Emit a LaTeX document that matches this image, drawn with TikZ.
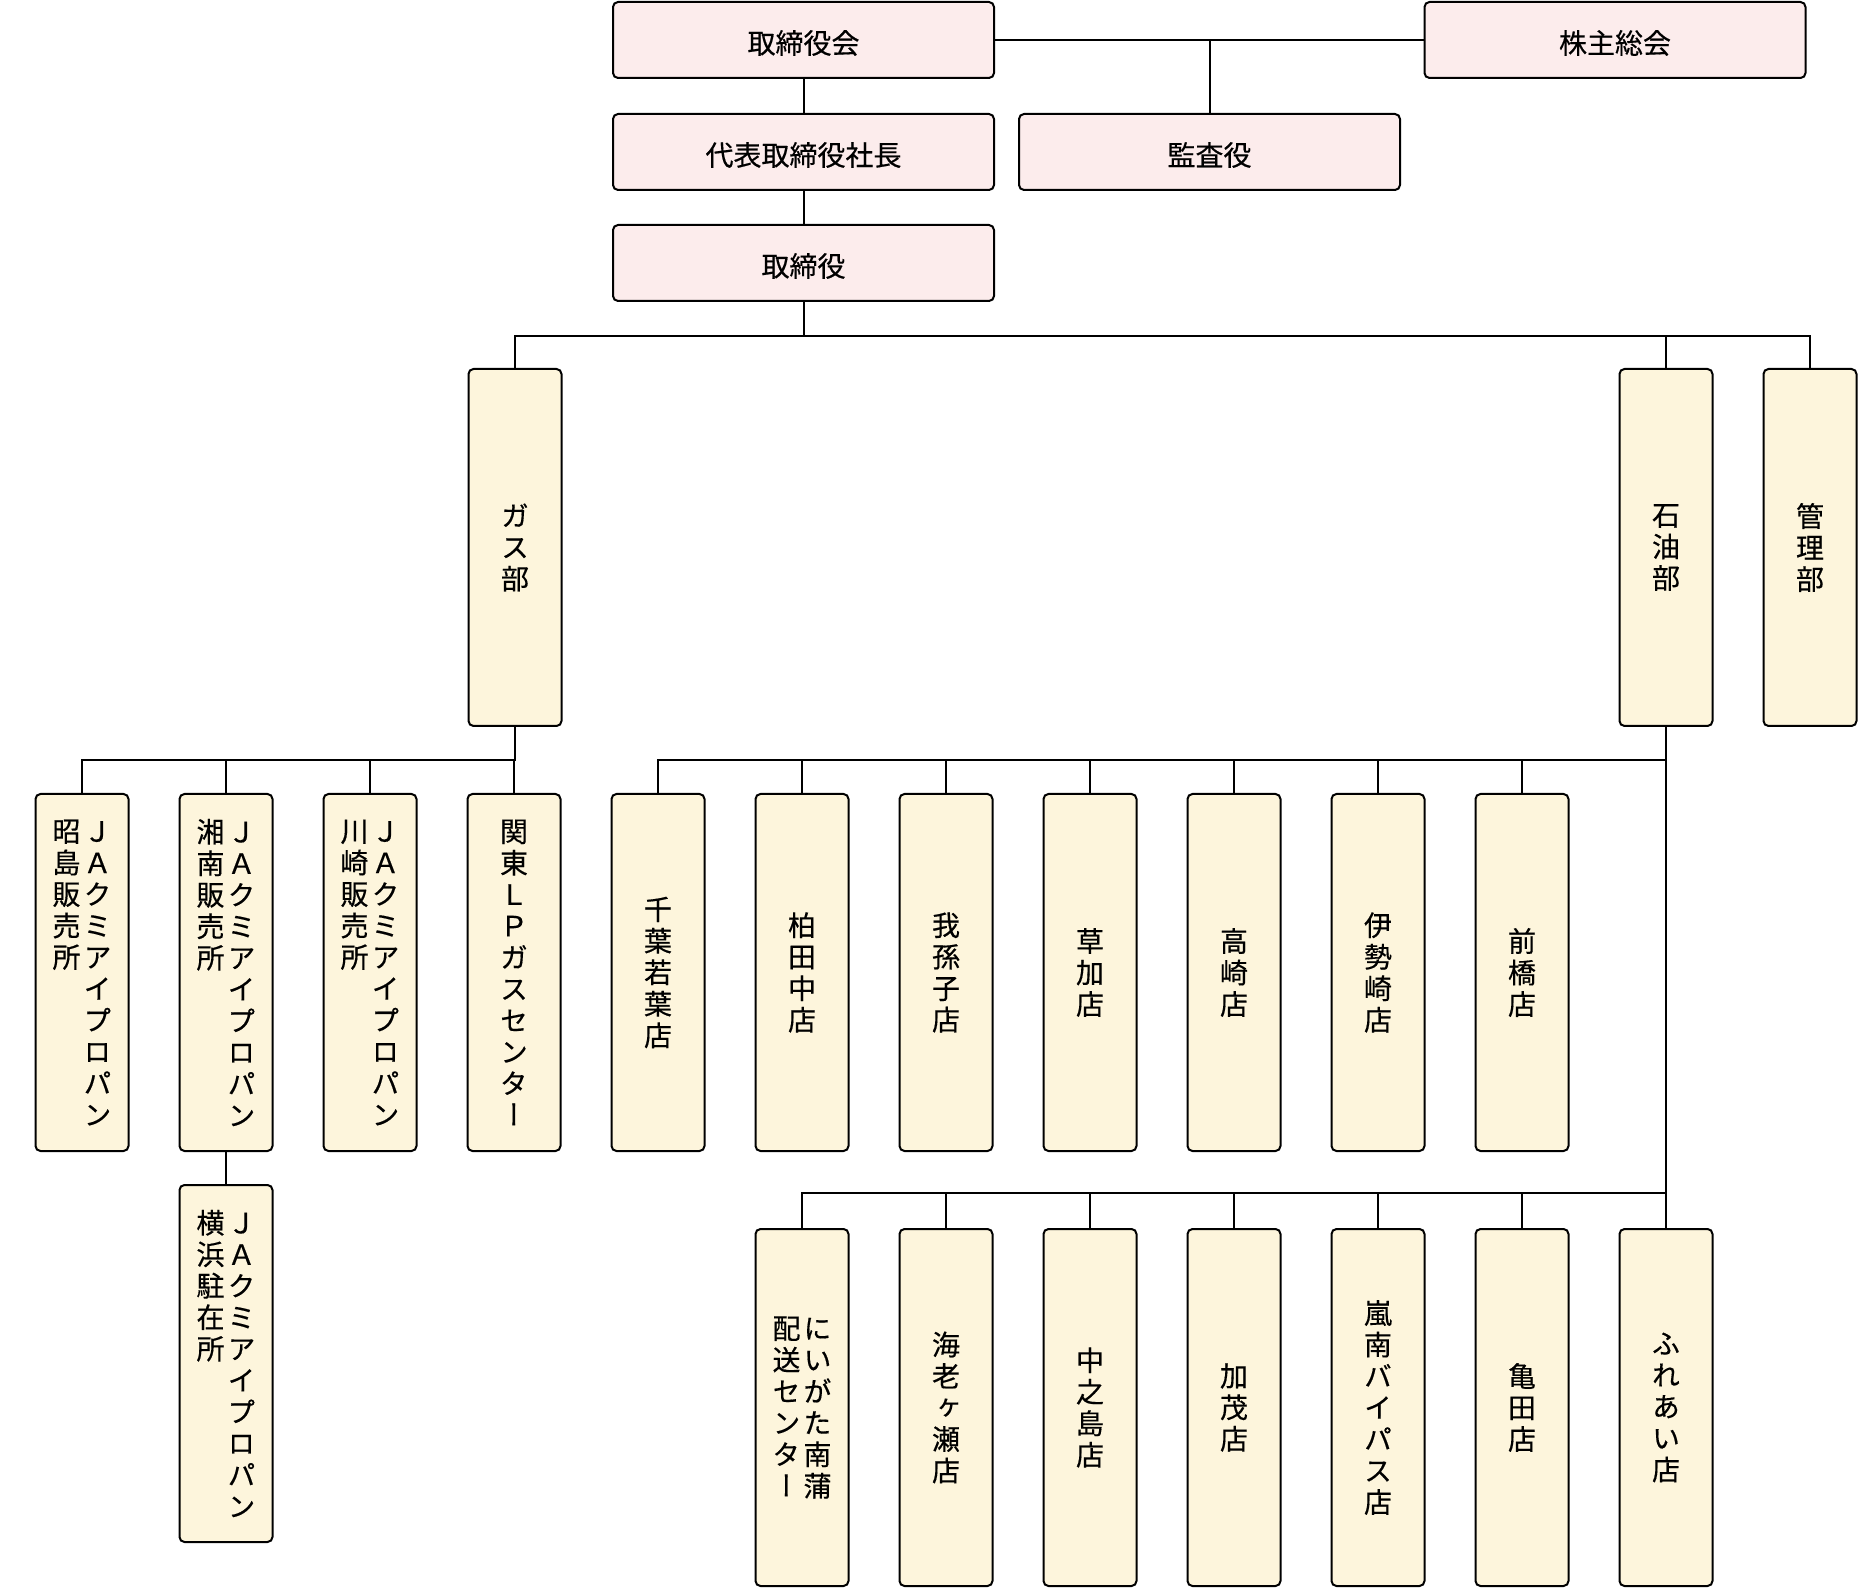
\documentclass[tikz,border=0pt]{standalone}
\usepackage{fontspec}
\usetikzlibrary{positioning}
\newfontfamily\jp[FakeBold=0.4]{Noto Sans CJK JP}
\newfontfamily\jpv[FakeBold=0.4, RawFeature=+vert]{Noto Sans CJK JP}
\definecolor{orgpink}{HTML}{FCECEC}
\definecolor{unitcream}{HTML}{FDF5DC}
% one column of upright characters, top to bottom
\newcommand{\tate}[1]{\vtop{\baselineskip=15.75pt\tatechars#1\relax}}
\def\tatechars#1{\ifx#1\relax\else\hbox to 15.5pt{\hss#1\hss}\expandafter\tatechars\fi}

\begin{document}
\begin{tikzpicture}[x=0.5pt, y=-0.5pt,
        org/.style={draw, line width=1pt, rounded corners=2.5pt, fill=orgpink, minimum width=190.5pt, minimum height=38pt, text height=13.6pt, text depth=0pt, outer sep=0pt, font=\jp\fontsize{14pt}{16pt}\selectfont},
        unit/.style={draw, line width=1pt, rounded corners=2.5pt, fill=unitcream, minimum width=46.5pt, minimum height=178.5pt, inner sep=0pt, outer sep=0pt, font=\jpv\fontsize{14pt}{15.75pt}\selectfont},
        link/.style={line width=1pt}]
      \useasboundingbox (0,0) rectangle (1860,1588);
      % board and management
      \node[org] (board) at (803.5,40) {取締役会};
      \node[org] (meeting) at (1615,40) {株主総会};
      \node[org] (auditor) at (1209.5,152) {監査役};
      \node[org] (ceo) at (803.5,152) {代表取締役社長};
      \node[org] (dirs) at (803.5,263) {取締役};
      % departments
      \node[unit] (gas) at (515,547.5) {\tate{ガス部}};
      \node[unit] (oil) at (1666,547.5) {\tate{石油部}};
      \node[unit, right=25.5pt of oil] (admin) {\tate{管理部}};
      % gas offices
      \node[unit] (akishima) at (82,972.5) {\hbox{\tate{昭島販売所}\tate{ＪＡクミアイプロパン}}};
      \node[unit, right=25.5pt of akishima] (shonan) {\hbox{\tate{湘南販売所}\tate{ＪＡクミアイプロパン}}};
      \node[unit, right=25.5pt of shonan] (kawasaki) {\hbox{\tate{川崎販売所}\tate{ＪＡクミアイプロパン}}};
      \node[unit, right=25.5pt of kawasaki] (kanto) {\tate{関東ＬＰガスセンター}};
      \node[unit, below=17pt of shonan] (yokohama) {\hbox{\tate{横浜駐在所}\tate{ＪＡクミアイプロパン}}};
      % oil stores
      \node[unit, right=25.5pt of kanto] (chiba) {\tate{千葉若葉店}};
      \node[unit, right=25.5pt of chiba] (kashiwa) {\tate{柏田中店}};
      \node[unit, right=25.5pt of kashiwa] (abiko) {\tate{我孫子店}};
      \node[unit, right=25.5pt of abiko] (soka) {\tate{草加店}};
      \node[unit, right=25.5pt of soka] (takasaki) {\tate{高崎店}};
      \node[unit, right=25.5pt of takasaki] (isesaki) {\tate{伊勢崎店}};
      \node[unit, right=25.5pt of isesaki] (maebashi) {\tate{前橋店}};
      \node[unit, below=39pt of kashiwa] (niigata) {\hbox{\tate{配送センター}\tate{にいがた南蒲}}};
      \node[unit, right=25.5pt of niigata] (ebigase) {\tate{海老ヶ瀬店}};
      \node[unit, right=25.5pt of ebigase] (nakanoshima) {\tate{中之島店}};
      \node[unit, right=25.5pt of nakanoshima] (kamo) {\tate{加茂店}};
      \node[unit, right=25.5pt of kamo] (rannan) {\tate{嵐南バイパス店}};
      \node[unit, right=25.5pt of rannan] (kameda) {\tate{亀田店}};
      \node[unit, right=25.5pt of kameda] (fureai) {\tate{ふれあい店}};
      % buses
      \coordinate (topbus) at (803.5,336);
      \coordinate (gasbus) at (515,760);
      \coordinate (oilbus) at (1666,760);
      \coordinate (lowbus) at (1666,1193);
      % lines
      \draw[link] (board.east) -- (meeting.west);
      \draw[link] (auditor.north) -- (auditor.north |- board.east);
      \draw[link] (board.south) -- (ceo.north); \draw[link] (ceo.south) -- (dirs.north);
      \draw[link] (dirs.south) -- (topbus);
      \draw[link] (gas.north) |- (topbus) -| (admin.north);
      \draw[link] (oil.north) -- (oil.north |- topbus);
      \draw[link] (akishima.north) |- (gasbus) -- (gas.south);
      \draw[link] (shonan.north) -- (shonan.north |- gasbus); \draw[link] (kawasaki.north) -- (kawasaki.north |- gasbus);
      \draw[link] (kanto.north) -- (kanto.north |- gasbus);
      \draw[link] (shonan.south) -- (yokohama.north);
      \draw[link] (oil.south) -- (fureai.north);
      \draw[link] (chiba.north) |- (oilbus);
      \draw[link] (kashiwa.north) -- (kashiwa.north |- oilbus); \draw[link] (abiko.north) -- (abiko.north |- oilbus);
      \draw[link] (soka.north) -- (soka.north |- oilbus); \draw[link] (takasaki.north) -- (takasaki.north |- oilbus);
      \draw[link] (isesaki.north) -- (isesaki.north |- oilbus); \draw[link] (maebashi.north) -- (maebashi.north |- oilbus);
      \draw[link] (niigata.north) |- (lowbus);
      \draw[link] (ebigase.north) -- (ebigase.north |- lowbus); \draw[link] (nakanoshima.north) -- (nakanoshima.north |- lowbus);
      \draw[link] (kamo.north) -- (kamo.north |- lowbus); \draw[link] (rannan.north) -- (rannan.north |- lowbus);
      \draw[link] (kameda.north) -- (kameda.north |- lowbus);
\end{tikzpicture}
\end{document}
